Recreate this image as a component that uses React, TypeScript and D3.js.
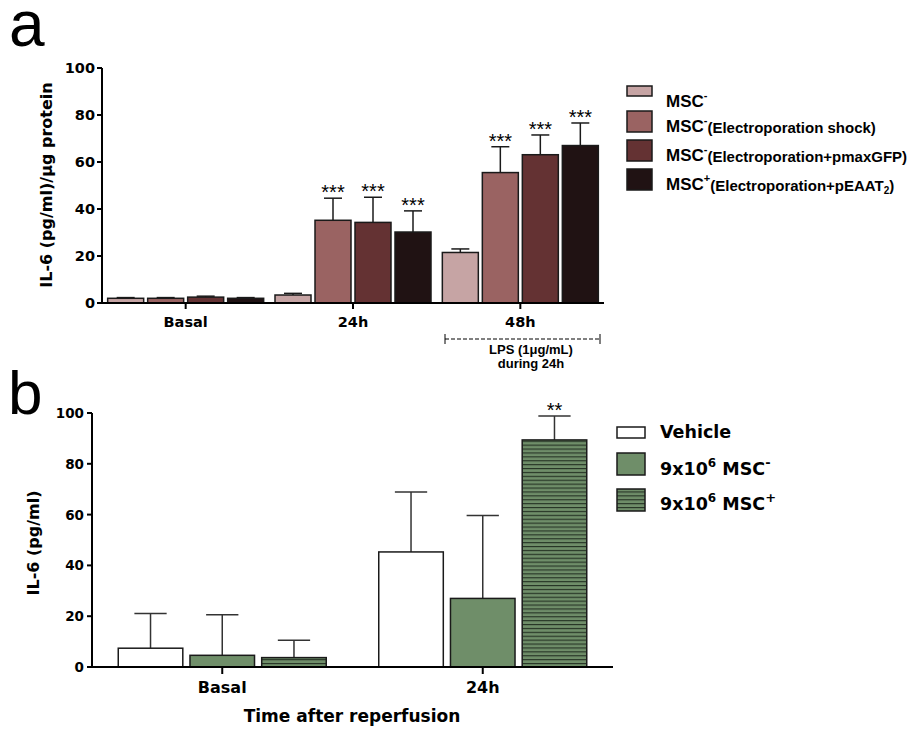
import React from 'react';
import * as d3 from 'd3';

// ---------- Panel a data ----------
const groupsA = ['Basal', '24h', '48h'];
const seriesA = ['MSC-', 'MSC- shock', 'MSC- pmaxGFP', 'MSC+ pEAAT2'];
const meanA = [
  [2.0, 2.0, 2.5, 2.0],
  [3.4, 35.2, 34.3, 30.2],
  [21.5, 55.5, 63.1, 67.0],
];
const errTopA = [
  [2.3, 2.3, 2.9, 2.3],
  [4.1, 44.6, 45.0, 39.2],
  [23.0, 66.5, 71.5, 76.6],
];
const sigA = [
  ['', '', '', ''],
  ['', '***', '***', '***'],
  ['', '***', '***', '***'],
];
const colorsA = ['#c6a4a4', '#9a6362', '#643233', '#201213'];
const legendMainA = ['MSC', 'MSC', 'MSC', 'MSC'];
const legendSupA = ['-', '-', '-', '+'];
const legendSubA = ['', '(Electroporation shock)', '(Electroporation+pmaxGFP)', '(Electroporation+pEAAT'];
const legendSubSubA = ['', '', '', '2'];
const legendTailA = ['', '', '', ')'];

// ---------- Panel b data ----------
const groupsB = ['Basal', '24h'];
const seriesB = ['Vehicle', '9x10^6 MSC-', '9x10^6 MSC+'];
const meanB = [
  [7.4, 4.6, 3.7],
  [45.3, 27.0, 89.4],
];
const errTopB = [
  [21.1, 20.6, 10.5],
  [68.9, 59.6, 98.8],
];
const sigB = [
  ['', '', ''],
  ['', '', '**'],
];
const legendSupB = ['', '-', '+'];

const yTicks = [0, 20, 40, 60, 80, 100];

const ARIAL = 'Liberation Sans, Arial, sans-serif';
const WIDE = 'DejaVu Sans, Verdana, sans-serif';
const STROKE = '#1a1a1a';
const GREEN = '#6f8e69';

export default function App() {
  // Panel a scales
  const xA = d3.scaleBand<string>().domain(groupsA).range([102, 604]);
  const innerA = d3.scaleBand<string>().domain(seriesA).range([-78, 78]).paddingInner(0.1);
  const yA = d3.scaleLinear().domain([0, 100]).range([303, 68]);

  // Panel b scales
  const xB = d3.scaleBand<string>().domain(groupsB).range([92, 613]);
  const innerB = d3.scaleBand<string>().domain(seriesB).range([-104, 104]).paddingInner(0.1);
  const yB = d3.scaleLinear().domain([0, 100]).range([667, 413]);

  const fillB = (i: number) => (i === 0 ? '#ffffff' : i === 1 ? GREEN : 'url(#hatch)');

  const legendAy = [86, 111, 140, 169];
  const legendAh = [10, 21, 21, 21];
  const legendAbase = [107, 132, 161, 190];

  const legendBy = [427, 453, 489];
  const legendBh = [11, 22, 22];
  const legendBbase = [438, 475, 510];

  return (
    <svg width={920} height={729} style={{ position: 'absolute', left: 0, top: 0, background: '#fff' }} fontFamily={ARIAL}>
      <defs>
        <pattern id="hatch" patternUnits="userSpaceOnUse" width={8} height={3.9}>
          <rect width={8} height={3.9} fill={GREEN} />
          <line x1={0} x2={8} y1={0.6} y2={0.6} stroke="#223022" strokeWidth={1.1} />
        </pattern>
      </defs>

      {/* Panel labels */}
      <text x={9} y={46} fontSize={64} fill="#000">a</text>
      <text x={8} y={414} fontSize={62} fill="#000">b</text>

      {/* ================= Panel a ================= */}
      {groupsA.map((g, gi) =>
        seriesA.map((s, si) => {
          const x0 = (xA(g) as number) + xA.bandwidth() / 2 + (innerA(s) as number);
          const w = innerA.bandwidth();
          const top = yA(meanA[gi][si]);
          const et = yA(errTopA[gi][si]);
          const cx = x0 + w / 2;
          return (
            <g key={`a-${gi}-${si}`}>
              <line x1={cx} x2={cx} y1={top} y2={et} stroke={STROKE} strokeWidth={1.5} />
              <line x1={cx - w / 4} x2={cx + w / 4} y1={et} y2={et} stroke={STROKE} strokeWidth={1.5} />
              <rect x={x0} y={top} width={w} height={yA(0) - top} fill={colorsA[si]} stroke={STROKE} strokeWidth={1.5} />
              {sigA[gi][si] && (
                <text x={cx} y={et + 1} fontSize={20} textAnchor="middle" fill="#000">{sigA[gi][si]}</text>
              )}
            </g>
          );
        })
      )}
      {/* y axis */}
      <line x1={102} x2={102} y1={yA(0) + 1} y2={yA(100)} stroke="#000" strokeWidth={2} />
      {yTicks.map((t) => (
        <g key={`ya-${t}`}>
          <line x1={97} x2={102} y1={yA(t)} y2={yA(t)} stroke="#000" strokeWidth={2} />
          <text x={95} y={yA(t) + 5} fontSize={14.5} fontWeight="bold" fontFamily={WIDE} textAnchor="end">{t}</text>
        </g>
      ))}
      {/* x axis */}
      <line x1={101} x2={604} y1={yA(0)} y2={yA(0)} stroke="#000" strokeWidth={2} />
      {groupsA.map((g) => {
        const c = (xA(g) as number) + xA.bandwidth() / 2;
        return (
          <g key={`xa-${g}`}>
            <line x1={c} x2={c} y1={yA(0)} y2={yA(0) + 6} stroke="#000" strokeWidth={2} />
            <text x={c} y={327} fontSize={14.5} fontWeight="bold" fontFamily={WIDE} textAnchor="middle">{g}</text>
          </g>
        );
      })}
      <text transform="translate(52,185) rotate(-90)" fontSize={16} fontWeight="bold" fontFamily={WIDE} textAnchor="middle">
        IL-6 (pg/ml)/μg protein
      </text>
      {/* LPS annotation */}
      <line x1={445} x2={600} y1={339} y2={339} stroke="#000" strokeWidth={1} strokeDasharray="4,2" />
      <line x1={445} x2={445} y1={334} y2={344} stroke="#000" strokeWidth={1} />
      <line x1={600} x2={600} y1={334} y2={344} stroke="#000" strokeWidth={1} />
      <text x={531} y={354} fontSize={13} fontWeight="bold" textAnchor="middle">LPS (1μg/mL)</text>
      <text x={531} y={368} fontSize={13} fontWeight="bold" textAnchor="middle">during 24h</text>

      {/* legend a */}
      {seriesA.map((s, i) => (
        <g key={`la-${i}`}>
          <rect x={627} y={legendAy[i]} width={25} height={legendAh[i]} fill={colorsA[i]} stroke={STROKE} strokeWidth={1.5} />
          <text x={666} y={legendAbase[i]} fontSize={17} fontWeight="bold">
            {legendMainA[i]}
            <tspan fontSize={11} dy={-8}>{legendSupA[i]}</tspan>
            {legendSubA[i] && <tspan fontSize={15} dy={9}>{legendSubA[i]}</tspan>}
            {legendSubSubA[i] && <tspan fontSize={10} dy={3}>{legendSubSubA[i]}</tspan>}
            {legendTailA[i] && <tspan fontSize={15} dy={-3}>{legendTailA[i]}</tspan>}
          </text>
        </g>
      ))}

      {/* ================= Panel b ================= */}
      {groupsB.map((g, gi) =>
        seriesB.map((s, si) => {
          const x0 = (xB(g) as number) + xB.bandwidth() / 2 + (innerB(s) as number);
          const w = innerB.bandwidth();
          const top = yB(meanB[gi][si]);
          const et = yB(errTopB[gi][si]);
          const cx = x0 + w / 2;
          return (
            <g key={`b-${gi}-${si}`}>
              <line x1={cx} x2={cx} y1={top} y2={et} stroke="#333" strokeWidth={1.5} />
              <line x1={cx - w / 4} x2={cx + w / 4} y1={et} y2={et} stroke="#333" strokeWidth={1.5} />
              <rect x={x0} y={top} width={w} height={yB(0) - top} fill={fillB(si)} stroke={STROKE} strokeWidth={1.5} />
              {sigB[gi][si] && (
                <text x={cx} y={et + 1} fontSize={20} textAnchor="middle" fill="#000">{sigB[gi][si]}</text>
              )}
            </g>
          );
        })
      )}
      <line x1={92} x2={92} y1={yB(0) + 1} y2={yB(100)} stroke="#000" strokeWidth={2} />
      {yTicks.map((t) => (
        <g key={`yb-${t}`}>
          <line x1={87} x2={92} y1={yB(t)} y2={yB(t)} stroke="#000" strokeWidth={2} />
          <text x={84} y={yB(t) + 5} fontSize={13.5} fontWeight="bold" fontFamily={WIDE} textAnchor="end">{t}</text>
        </g>
      ))}
      <line x1={91} x2={613} y1={yB(0)} y2={yB(0)} stroke="#000" strokeWidth={2} />
      {groupsB.map((g) => {
        const c = (xB(g) as number) + xB.bandwidth() / 2;
        return (
          <g key={`xb-${g}`}>
            <line x1={c} x2={c} y1={yB(0)} y2={yB(0) + 7} stroke="#000" strokeWidth={2} />
            <text x={c} y={693} fontSize={16} fontWeight="bold" fontFamily={WIDE} textAnchor="middle">{g}</text>
          </g>
        );
      })}
      <text x={352} y={722} fontSize={17} fontWeight="bold" fontFamily={WIDE} textAnchor="middle">Time after reperfusion</text>
      <text transform="translate(39,543) rotate(-90)" fontSize={16} fontWeight="bold" fontFamily={WIDE} textAnchor="middle">IL-6 (pg/ml)</text>

      {/* legend b */}
      {seriesB.map((s, i) => (
        <g key={`lb-${i}`}>
          <rect x={617} y={legendBy[i]} width={28} height={legendBh[i]} fill={fillB(i)} stroke={STROKE} strokeWidth={1.5} />
          {i === 0 ? (
            <text x={660} y={legendBbase[i]} fontSize={17.5} fontWeight="bold" fontFamily={WIDE}>Vehicle</text>
          ) : (
            <text x={660} y={legendBbase[i]} fontSize={17.5} fontWeight="bold" fontFamily={WIDE}>
              9x10
              <tspan fontSize={12} dy={-8}>6</tspan>
              <tspan dy={8}> MSC</tspan>
              <tspan fontSize={13} dy={-8}>{legendSupB[i]}</tspan>
            </text>
          )}
        </g>
      ))}
    </svg>
  );
}
